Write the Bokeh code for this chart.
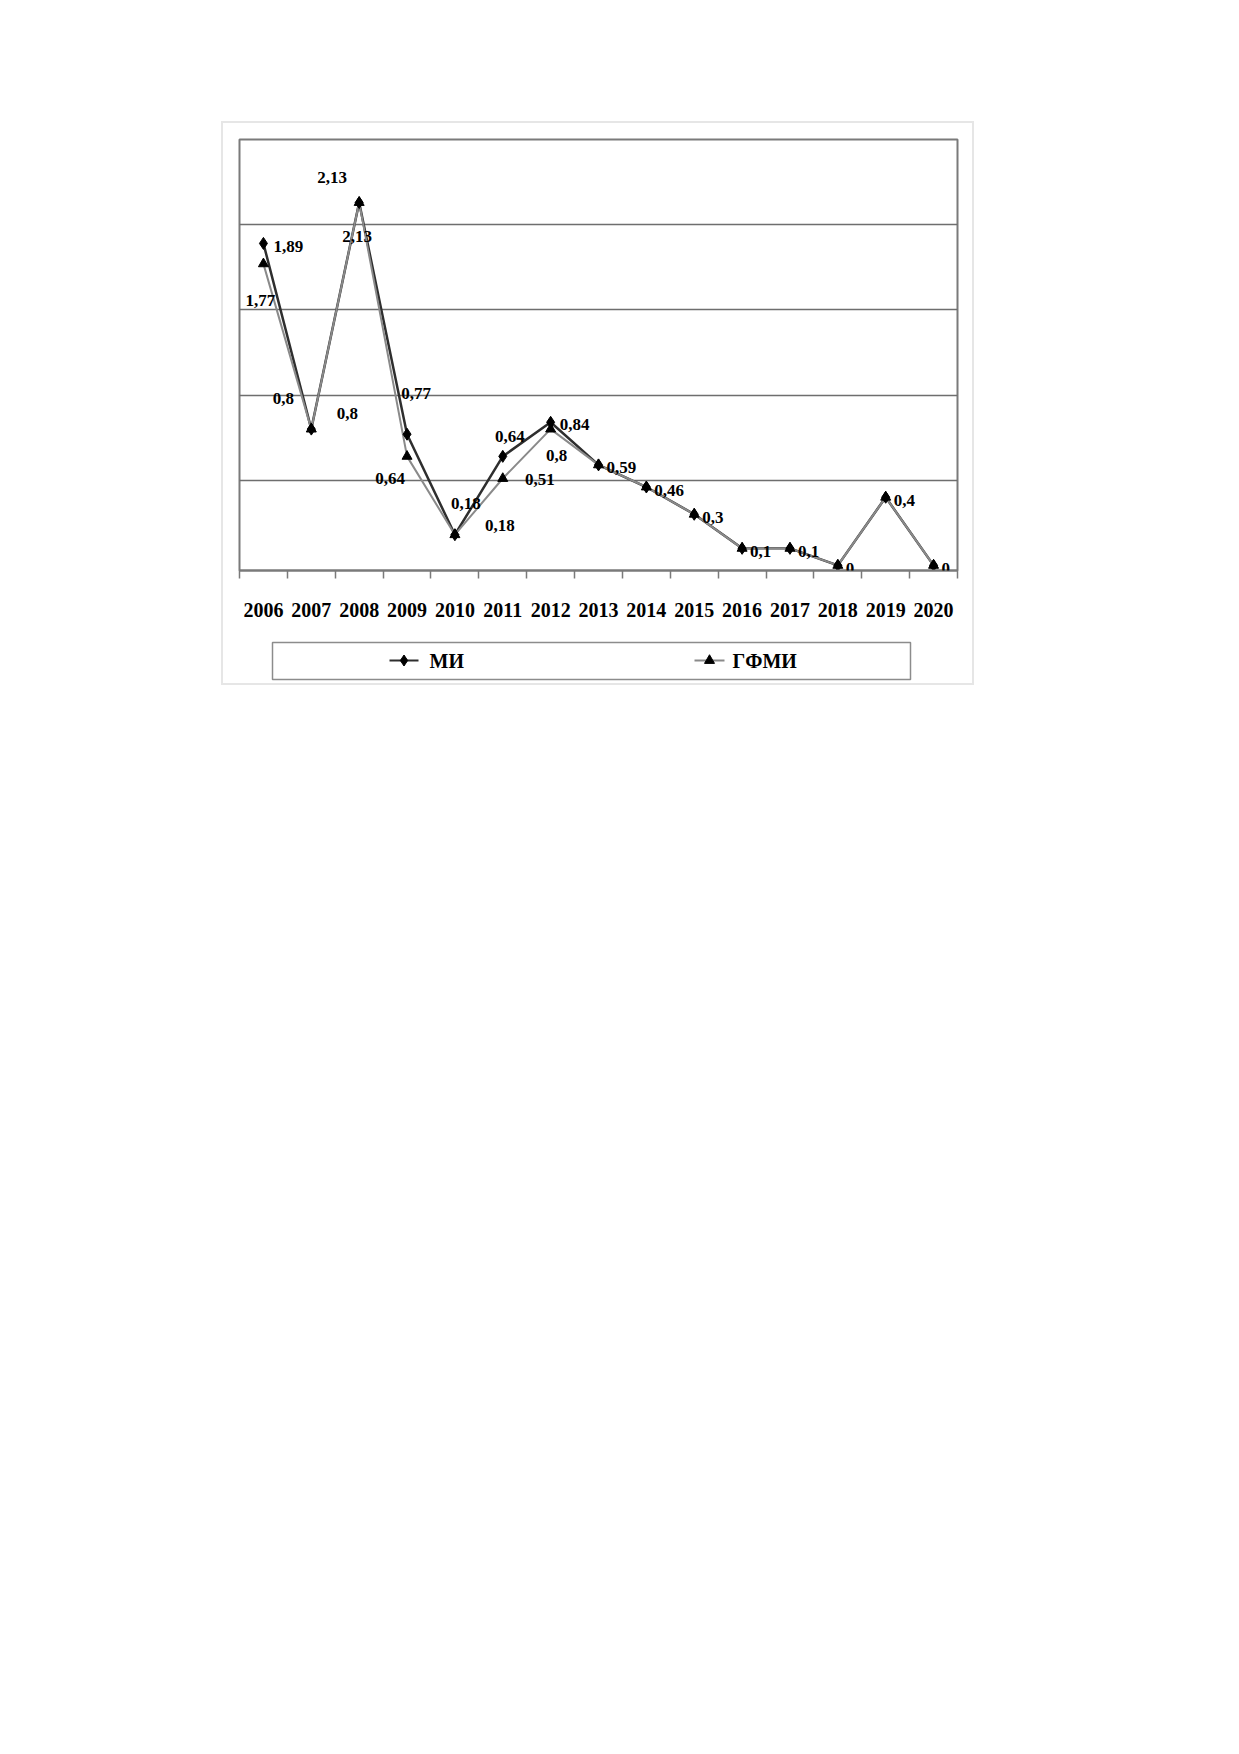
from bokeh.plotting import figure
from bokeh.models import Range1d, FixedTicker, Grid, ColumnDataSource, LabelSet
from bokeh.layouts import column
from bokeh.core.properties import value
from bokeh.embed import file_html
from bokeh.resources import INLINE

# ---- data ----
years = ["2006", "2007", "2008", "2009", "2010", "2011", "2012", "2013",
         "2014", "2015", "2016", "2017", "2018", "2019", "2020"]
mi = [1.89, 0.8, 2.13, 0.77, 0.18, 0.64, 0.84, 0.59, 0.46, 0.3, 0.1, 0.1, 0, 0.4, 0]
gfmi = [1.77, 0.8, 2.13, 0.64, 0.18, 0.51, 0.8, 0.59, 0.46, 0.3, 0.1, 0.1, 0, 0.4, 0]
grid_values = [0.5, 1.0, 1.5, 2.0]
series_names = ["МИ", "ГФМИ"]

# ---- label placement (screen px offsets: dx right, dy down; align) ----
mi_label_place = [(10, 3, "left"), (-28, -31, "center"), (-27, -25, "center"),
                  (9, -41, "center"), (11, -31, "center"), (7, -20, "center"),
                  (9, 2, "left")] + [(8, 3, "left")] * 8
gfmi_label_place = [(-3, 37, "center"), (36, -16, "center"), (-2, 34, "center"),
                    (-17, 22, "center"), (45, -9, "center"), (37, 1, "center"),
                    (6, 26, "center")]

FONT = "Liberation Serif"
MI_COLOR = "#2e2e2e"
GF_COLOR = "#8a8a8a"
FRAME_COLOR = "#7a7a7a"
FRAME_W = 718
xs = [i + 0.5 for i in range(len(years))]


def fmt(v):
    return f"{v:g}".replace(".", ",")


p = figure(frame_width=FRAME_W, frame_height=431,
           x_range=Range1d(0, len(years)), y_range=Range1d(-0.03, 2.5),
           output_backend="svg", toolbar_location=None, y_axis_location=None,
           min_border_left=16, min_border_right=15, min_border_top=16, min_border_bottom=70,
           outline_line_color=FRAME_COLOR, outline_line_width=2,
           background_fill_color="white", border_fill_color="white")
p.grid.visible = False
p.add_layout(Grid(dimension=1, ticker=FixedTicker(ticks=grid_values),
                  grid_line_color="#6e6e6e", grid_line_width=1.5))

ax = p.xaxis[0]
ax.ticker = FixedTicker(ticks=xs, minor_ticks=list(range(len(years) + 1)))
ax.major_label_overrides = {x: y for x, y in zip(xs, years)}
ax.major_tick_out = 0
ax.major_tick_in = 0
ax.minor_tick_out = 8
ax.minor_tick_in = 0
ax.minor_tick_line_color = FRAME_COLOR
ax.minor_tick_line_width = 1.5
ax.axis_line_color = FRAME_COLOR
ax.axis_line_width = 2
ax.major_label_standoff = 24
ax.major_label_text_font = FONT
ax.major_label_text_font_style = "bold"
ax.major_label_text_font_size = "20px"
ax.major_label_text_color = "black"

p.line(xs, mi, line_color=MI_COLOR, line_width=2.5)
p.line(xs, gfmi, line_color=GF_COLOR, line_width=2)
p.scatter(xs, mi, marker="diamond", size=12, fill_color="black", line_color="black")
p.scatter(xs, gfmi, marker="triangle", size=10, fill_color="black", line_color="black")

lx, ly, lt, ldx, ldy, lal = [], [], [], [], [], []
for vals, places in ((mi, mi_label_place), (gfmi, gfmi_label_place)):
    for x, v, (dx, dy, al) in zip(xs, vals, places):
        lx.append(x); ly.append(v); lt.append(fmt(v))
        ldx.append(dx); ldy.append(-dy); lal.append(al)
src = ColumnDataSource(dict(x=lx, y=ly, text=lt, dx=ldx, dy=ldy, align=lal))
labels = LabelSet(x="x", y="y", text="text", x_offset="dx", y_offset="dy",
                  text_align="align", text_baseline="middle", source=src,
                  text_font=value(FONT), text_font_style="bold",
                  text_font_size="17px", text_color="black")
p.add_layout(labels)

# ---- legend strip (same horizontal frame as the chart; box drawn inside) ----
LEG_H = 43
leg = figure(frame_width=FRAME_W, frame_height=LEG_H, x_range=Range1d(0, FRAME_W),
             y_range=Range1d(0, LEG_H), output_backend="svg", toolbar_location=None,
             x_axis_location=None, y_axis_location=None,
             min_border_left=16, min_border_right=15, min_border_top=0, min_border_bottom=0,
             outline_line_color=None, background_fill_color="white",
             border_fill_color="white")
leg.grid.visible = False
leg.quad(left=[33], right=[671], bottom=[4], top=[41], fill_color=None,
         line_color="#8c8c8c", line_width=1.5)
leg_glyph_x = [(150, 179), (455, 485)]
leg_text_x = [190, 493]
leg_y = 23
leg.line(list(leg_glyph_x[0]), [leg_y, leg_y], line_color=MI_COLOR, line_width=2)
leg.scatter([sum(leg_glyph_x[0]) / 2], [leg_y], marker="diamond", size=11,
            fill_color="black", line_color="black")
leg.line(list(leg_glyph_x[1]), [leg_y, leg_y], line_color=GF_COLOR, line_width=2)
leg.scatter([sum(leg_glyph_x[1]) / 2], [leg_y], marker="triangle", size=10,
            fill_color="black", line_color="black")
leg.text(x=leg_text_x, y=[leg_y, leg_y], text=series_names, text_align="left",
         text_baseline="middle", text_font=value(FONT), text_font_style="bold",
         text_font_size="20px", text_color="black")

layout = column(p, leg, margin=(121, 0, 0, 221),
                styles={"border": "2px solid #e6e6e6", "background": "white"})

open("out.html", "w").write(file_html(layout, INLINE))
